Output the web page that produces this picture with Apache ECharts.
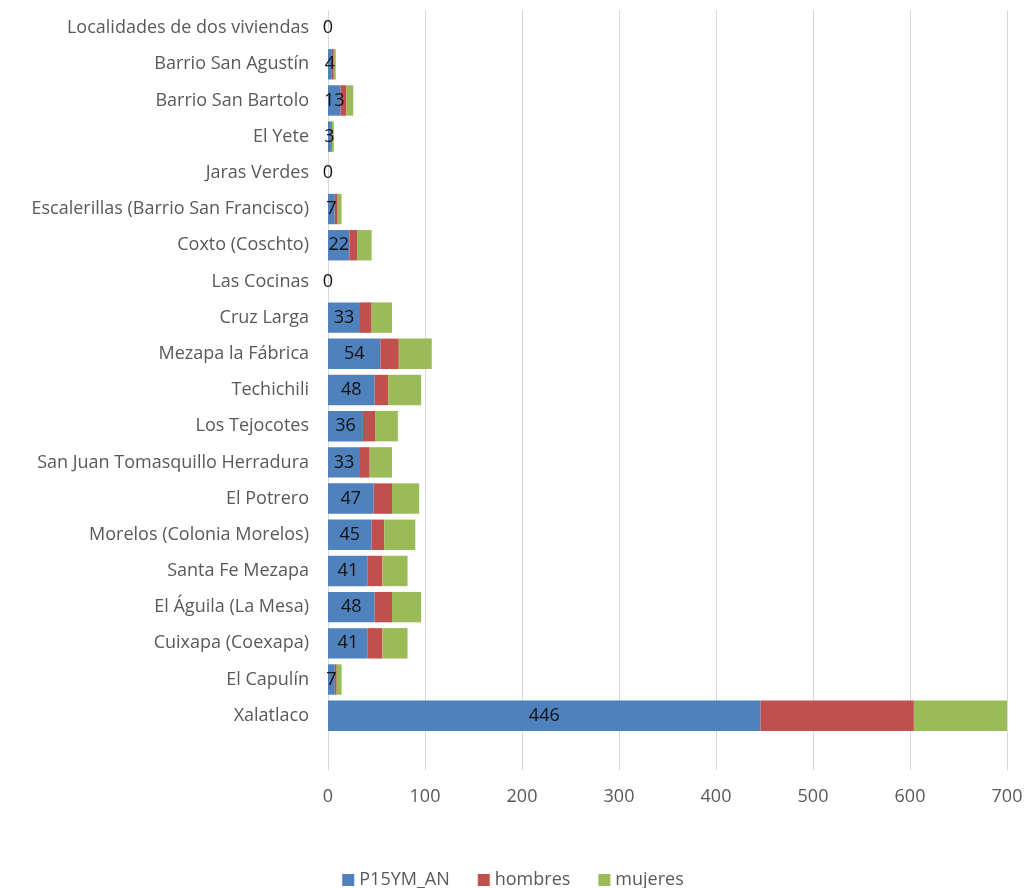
<!DOCTYPE html>
<html><head><meta charset="utf-8">
<script src="https://cdn.jsdelivr.net/npm/echarts@6/dist/echarts.min.js"></script>
<style>html,body{margin:0;padding:0;background:#fff}#c{width:1026px;height:888px}</style>
</head><body><div id="c"></div>
<script>
const categories = ["Localidades de dos viviendas","Barrio San Agustín","Barrio San Bartolo","El Yete","Jaras Verdes","Escalerillas (Barrio San Francisco)","Coxto (Coschto)","Las Cocinas","Cruz Larga","Mezapa la Fábrica","Techichili","Los Tejocotes","San Juan Tomasquillo Herradura","El Potrero","Morelos (Colonia Morelos)","Santa Fe Mezapa","El Águila (La Mesa)","Cuixapa (Coexapa)","El Capulín","Xalatlaco",""];
const p15ym = [0,4,13,3,0,7,22,0,33,54,48,36,33,47,45,41,48,41,7,446,null];
const hombres = [0,2,6,1,0,3,8,0,12,19,14,13,10,19,13,15,18,15,2,158,null];
const mujeres = [0,2,7,2,0,4,15,0,21,34,34,23,23,28,32,26,30,26,5,96,null];
const xTicks = [0,100,200,300,400,500,600,700];

const FONT = '"Open Sans", sans-serif';
const chart = echarts.init(document.getElementById('c'));
chart.setOption({
  animation:false,
  textStyle:{fontFamily:FONT},
  grid:{left:328,right:19,top:10,bottom:118,containLabel:false},
  legend:{top:866,left:'center',itemWidth:12,itemHeight:12,itemGap:28,icon:'rect',
    textStyle:{color:'#595959',fontSize:18,fontFamily:FONT},
    data:['P15YM_AN','hombres','mujeres']},
  xAxis:{type:'value',min:xTicks[0],max:xTicks[xTicks.length-1],interval:100,
    axisLine:{show:false},axisTick:{show:false},
    axisLabel:{color:'#595959',fontSize:18,margin:18,fontFamily:FONT},
    splitLine:{lineStyle:{color:'#d9d9d9',width:1}}},
  yAxis:{type:'category',data:categories,inverse:true,
    axisLine:{show:false},axisTick:{show:false},
    axisLabel:{color:'#595959',fontSize:18,margin:19,fontFamily:FONT}},
  series:[
    {name:'P15YM_AN',type:'bar',stack:'t',data:p15ym,barCategoryGap:'16%',
      itemStyle:{color:'#4F81BD'},
      label:{show:true,position:'inside',color:'#111111',fontSize:18,fontFamily:FONT,
        formatter:p=>p.value==null?'':p.value}},
    {name:'hombres',type:'bar',stack:'t',data:hombres,itemStyle:{color:'#C0504D'}},
    {name:'mujeres',type:'bar',stack:'t',data:mujeres,itemStyle:{color:'#9BBB59'}}
  ]
});
</script></body></html>
